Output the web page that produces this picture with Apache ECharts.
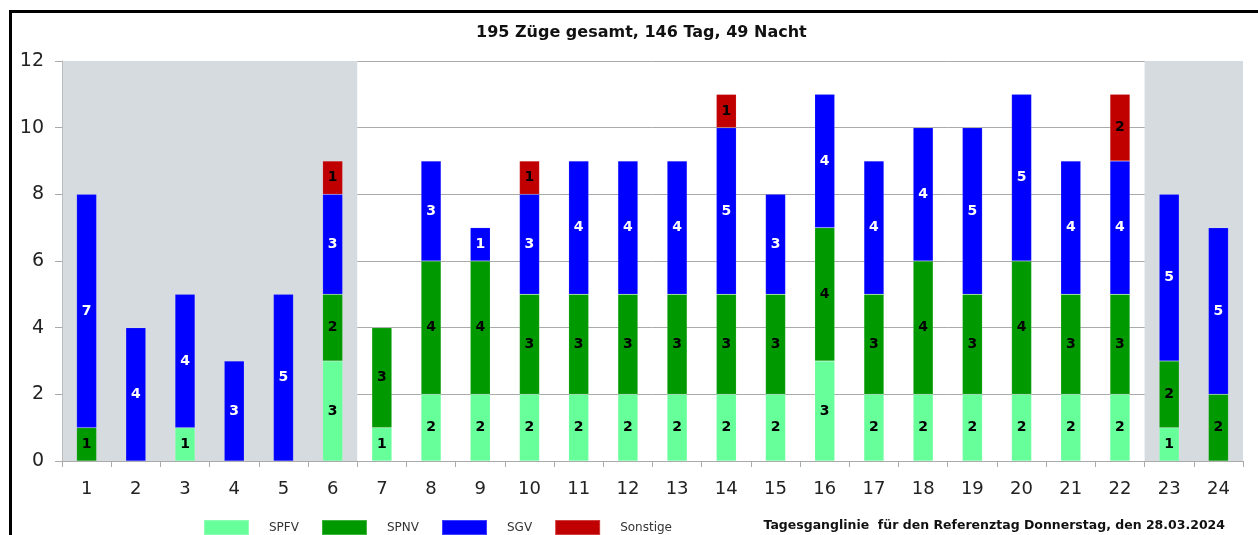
<!DOCTYPE html>
<html><head><meta charset="utf-8">
<script src="https://cdn.jsdelivr.net/npm/echarts@6/dist/echarts.min.js"></script>
<style>
html,body{margin:0;padding:0;background:#fff;}
#c{width:1258px;height:535px;position:absolute;left:0;top:0;}
#frame{position:absolute;left:9px;top:10px;width:1249px;height:525px;border-top:3px solid #000;border-left:3px solid #000;box-sizing:border-box;pointer-events:none;}
</style></head>
<body>
<div id="c"></div>
<div id="frame"></div>
<script>
const hours = ['1','2','3','4','5','6','7','8','9','10','11','12','13','14','15','16','17','18','19','20','21','22','23','24'];
const SPFV =     [0,0,1,0,0,3,1,2,2,2,2,2,2,2,2,3,2,2,2,2,2,2,1,0];
const SPNV =     [1,0,0,0,0,2,3,4,4,3,3,3,3,3,3,4,3,4,3,4,3,3,2,2];
const SGV =      [7,4,4,3,5,3,0,3,1,3,4,4,4,5,3,4,4,4,5,5,4,4,5,5];
const Sonstige = [0,0,0,0,0,1,0,0,0,1,0,0,0,1,0,0,0,0,0,0,0,2,0,0];
const nightRanges = [['1','6'],['23','24']];
const yTicks = [0,2,4,6,8,10,12];

const chart = echarts.init(document.getElementById('c'));
const font = 'DejaVu Sans';
function seg(name, data, color, labelColor){
  return {
    name, type:'bar', stack:'t', data: data.map(v => v === 0 ? null : v),
    barWidth: 20, z: 2,
    itemStyle:{color, borderColor: 'rgba(255,255,255,0.25)', borderWidth: 0.5},
    label:{show:true, position:'inside', color: labelColor, fontWeight:'bold', fontSize:14, fontFamily:font,
      formatter: p => p.value ? String(p.value) : ''}
  };
}
chart.setOption({
  animation:false,
  title:[
    {text:'195 Züge gesamt, 146 Tag, 49 Nacht', left:471, top:20,
     textStyle:{fontSize:16, fontWeight:'bold', color:'#111', fontFamily:font}},
    {text:'Tagesganglinie  für den Referenztag Donnerstag, den 28.03.2024', right:28, top:514,
     textStyle:{fontSize:12.5, fontWeight:'bold', color:'#111', fontFamily:font}}
  ],
  legend:{
    data:['SPFV','SPNV','SGV','Sonstige'], left:198, top:514, itemWidth:45, itemHeight:15,
    itemGap:22, icon:'rect',
    textStyle:{fontSize:12, color:'#333', fontFamily:font, padding:[0,0,0,15]}
  },
  grid:{left:62, right:15, top:61, bottom:74},
  xAxis:{type:'category', data:hours, z:1,
     axisLine:{lineStyle:{color:'#aaa', width:1}},
     axisTick:{show:true, length:6, lineStyle:{color:'#aaa'}},
     axisLabel:{fontSize:18, color:'#222', margin:19, fontFamily:font}},
  yAxis:{type:'value', min:0, max:12, interval:2, z:1,
    axisLine:{show:true, lineStyle:{color:'#bbb'}},
    axisTick:{show:true, length:7, lineStyle:{color:'#aaa'}},
    splitLine:{lineStyle:{color:'#aaa'}},
    axisLabel:{fontSize:19, color:'#222', margin:18, fontFamily:font,
      formatter: v => yTicks.includes(v) ? String(v) : ''}
  },
  series:[
    {name:'shade', type:'bar', data:[], silent:true, z:0,
     markArea:{silent:true, itemStyle:{color:'#d6dbe0'},
       data: nightRanges.map(r => [{xAxis:r[0]},{xAxis:r[1]}])}},
    seg('SPFV', SPFV, '#66ff99', '#000'),
    seg('SPNV', SPNV, '#009900', '#000'),
    seg('SGV', SGV, '#0000ff', '#fff'),
    seg('Sonstige', Sonstige, '#c00000', '#000')
  ]
});
</script>
</body></html>
